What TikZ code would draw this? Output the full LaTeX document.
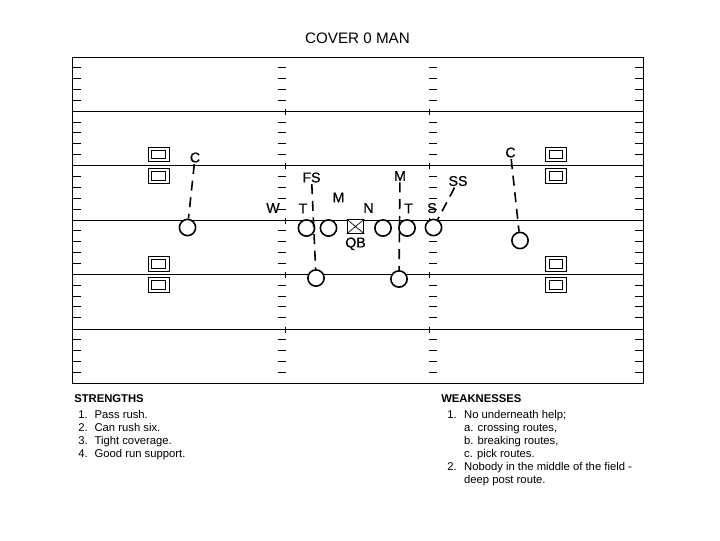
\documentclass[tikz,border=0pt]{standalone}
\usepackage{fontspec}
\setmainfont{Liberation Sans}
\newfontfamily\labelfont[FakeBold=0.7]{Liberation Sans}
\usepackage{xcolor}
\usetikzlibrary{positioning}
\definecolor{ink}{HTML}{000000}
\tikzset{
  fieldline/.style={draw=ink,line width=0.8pt},
  hashline/.style={draw=ink,line width=0.75pt},
  playernode/.style={
    circle,
    draw=ink,
    fill=white,
    line width=1.2pt,
    minimum size=12.2pt,
    inner sep=0pt
  },
  qbnode/.style={
    draw=ink,
    fill=white,
    line width=0.7pt,
    minimum width=12.6pt,
    minimum height=10.4pt,
    inner sep=0pt
  },
  receivernode/.style={
    draw=ink,
    line width=0.7pt,
    minimum width=16pt,
    minimum height=11pt,
    inner sep=0pt
  },
  receiverinner/.style={
    draw=ink,
    line width=0.7pt,
    minimum width=10.4pt,
    minimum height=6.4pt,
    inner sep=0pt
  },
  labelnode/.style={font=\labelfont\fontsize{10.6pt}{12pt}\selectfont,inner sep=1pt},
  routearrow/.style={draw=ink,line width=1.2pt,dash pattern=on 7.5pt off 5pt},
  notetext/.style={font=\fontsize{8.45pt}{9.75pt}\selectfont,inner sep=0pt,anchor=north west,align=left},
  notehead/.style={font=\fontsize{8.45pt}{9.75pt}\selectfont\bfseries,inner sep=0pt,anchor=west}
}
\begin{document}
\begin{tikzpicture}[x=0.75pt,y=-0.75pt]
  \useasboundingbox (0,0) rectangle (720,540);
  \node[font=\fontsize{11.4pt}{13pt}\selectfont,inner sep=0pt] (title) at (357.5,38) {COVER 0 MAN};
  \draw[fieldline] (72.5,57.5) rectangle (643.5,383.5);
  \foreach \yy in {111.5,165.5,220.5,274.5,329.5} {
    \draw[fieldline] (72.5,\yy) -- (643.5,\yy);
    \draw[hashline] (285.5,\yy-3) -- (285.5,\yy+3);
    \draw[hashline] (429.5,\yy-3) -- (429.5,\yy+3);
  }
  \foreach \k in {1,...,29} {
    \pgfmathtruncatemacro{\rest}{mod(\k,5)}
    \ifnum\rest>0
      \pgfmathsetmacro{\yy}{floor(56.9+10.87*\k)+0.5}
      \draw[hashline] (72.5,\yy) -- (81,\yy);
      \draw[hashline] (278,\yy) -- (286,\yy);
      \draw[hashline] (429,\yy) -- (437,\yy);
      \draw[hashline] (635,\yy) -- (643,\yy);
    \fi
  }
  \foreach \name/\px/\py in {recla/158.7/154.5,reclb/158.7/176,reclc/158.7/264,recld/158.7/285,
                             recra/556/154.5,recrb/556/176,recrc/556/264,recrd/556/285} {
    \node[receivernode] (\name) at (\px,\py) {};
    \node[receiverinner] (\name inner) at (\name) {};
  }
  \node[playernode] (cornerl) at (187.5,227.5) {};
  \node[playernode] (tackl) at (306.5,228) {};
  \node[playernode] (guardl) at (328.5,228) {};
  \node[qbnode] (qb) at (355.5,226.5) {};
  \node[playernode] (guardr) at (383,228) {};
  \node[playernode] (tackr) at (407,228) {};
  \node[playernode] (safety) at (433.5,227.5) {};
  \node[playernode] (backl) at (316,278) {};
  \node[playernode] (backr) at (399,279) {};
  \node[playernode] (cornerr) at (520,240.5) {};
  \draw[draw=ink,line width=0.5pt] (qb.north west) -- (qb.south east) (qb.north east) -- (qb.south west);
  \node[labelnode,below=1.5pt of qb] (qblabel) {QB};
  \node[labelnode] (cl) at (195,157.5) {C};
  \node[labelnode] (cr) at (510.5,152.5) {C};
  \node[labelnode] (fs) at (311.5,177.5) {FS};
  \node[labelnode] (mr) at (400,176) {M};
  \node[labelnode] (ss) at (458,181) {SS};
  \node[labelnode] (ml) at (338.5,197.5) {M};
  \node[labelnode] (wl) at (273,208) {W};
  \node[labelnode] (tl) at (303,208.5) {T};
  \node[labelnode] (nl) at (368.5,208) {N};
  \node[labelnode] (tr) at (408.5,208.5) {T};
  \node[labelnode] (sl) at (432,208) {S};
  \draw[routearrow] (cl) -- (cornerl);
  \draw[routearrow] (fs) -- (backl);
  \draw[routearrow] (mr) -- (backr);
  \draw[routearrow] (ss) -- (safety);
  \draw[routearrow] (cr) -- (cornerr);
  \node[notehead] (strengths) at (74,399) {STRENGTHS};
  \node[notetext] (strengthlist) at (78,409.3) {%
    \begin{tabular}{@{}l@{\hspace{5.2pt}}l@{}}
      1. & Pass rush.\\
      2. & Can rush six.\\
      3. & Tight coverage.\\
      4. & Good run support.
    \end{tabular}};
  \node[notehead] (weaknesses) at (441,399) {WEAKNESSES};
  \node[notetext] (weaklist) at (447,409.3) {%
    \begin{tabular}{@{}l@{\hspace{5.6pt}}l@{}}
      1. & No underneath help;\\
         & a. crossing routes,\\
         & b. breaking routes,\\
         & c. pick routes.\\
      2. & Nobody in the middle of the field -\\
         & deep post route.
    \end{tabular}};
\end{tikzpicture}
\end{document}
